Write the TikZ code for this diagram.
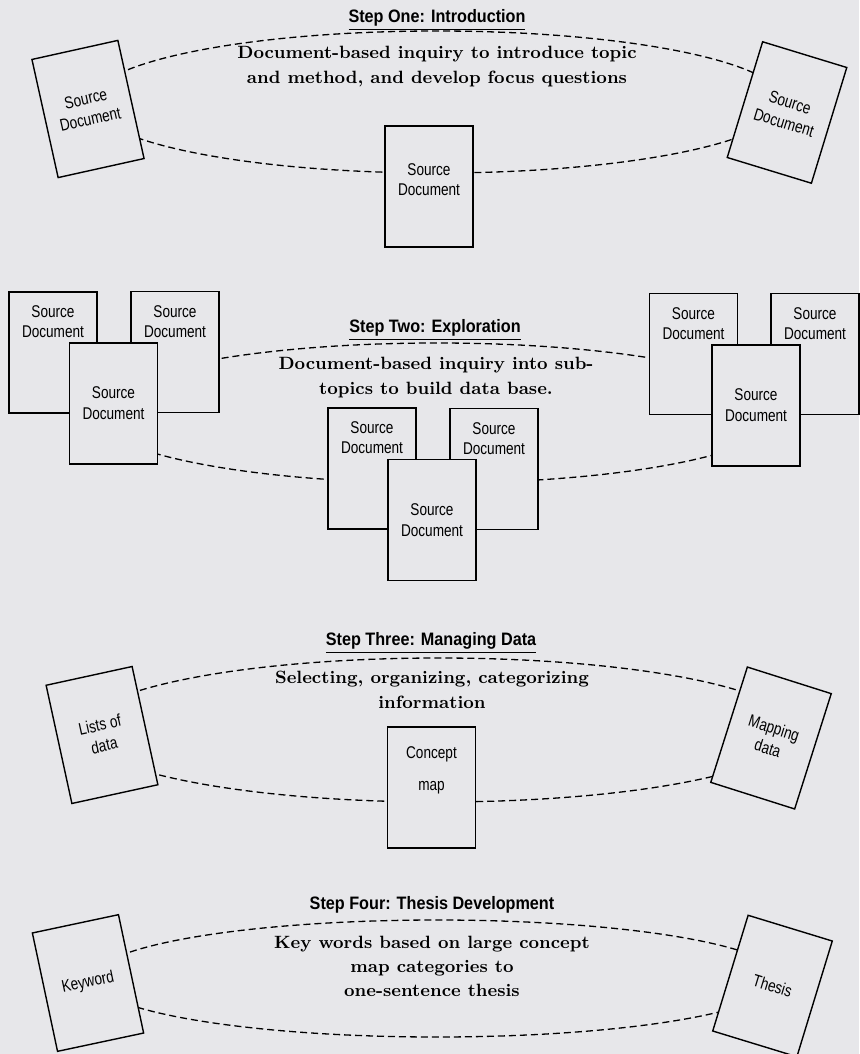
\documentclass[tikz,border=0pt]{standalone}
\usepackage{fontspec}
\usetikzlibrary{positioning}
\newfontfamily\docfont[FakeStretch=0.8]{Liberation Sans}
\newfontfamily\stepfont[FakeStretch=0.9]{Liberation Sans}
\definecolor{paper}{RGB}{231,231,234}
\tikzset{
  doc/.style={draw, fill=paper, line width=0.7pt, minimum width=44pt, minimum height=60.5pt,
    inner sep=0pt, align=center, font=\docfont\fontsize{8.5}{10.5}\selectfont},
  doctext/.style={inner sep=0pt, align=center, font=\docfont\fontsize{8.5}{10}\selectfont},
  steptitle/.style={inner sep=0pt, font=\stepfont\bfseries\fontsize{9}{11}\selectfont},
  stepbody/.style={inner sep=0pt, align=center, font=\bfseries\fontsize{8.9}{12.5}\selectfont},
  cycleline/.style={dash pattern=on 3.5pt off 2pt, line width=0.65pt}
}
\begin{document}
\begin{tikzpicture}[x=0.5pt, y=-0.5pt]
  \fill[paper] (0,0) rectangle (859,1054);
  \useasboundingbox (0,0) rectangle (859,1054);

  % step one
  \node[steptitle] (t1) at (437,20) {\underline{Step One: Introduction}};
  \node[stepbody] (b1) at (437,67) {Document-based inquiry to introduce topic\\and method, and develop focus questions};
  \draw[cycleline] (437,102) ellipse [x radius=173.5pt, y radius=35.5pt];
  \node[doc, rotate=12.5] (s1a) at (88,109) {Source\\Document};
  \node[doc] (s1b) at (429,186.5) {};
  \node[doctext, below=19pt of s1b.north] (s1bt) {Source\\Document};
  \node[doc, rotate=-17] (s1c) at (787,112.5) {Source\\Document};

  % step two
  \node[steptitle] (t2) at (435,330) {\underline{Step Two: Exploration}};
  \node[stepbody] (b2) at (436,378) {Document-based inquiry into sub-\\topics to build data base.};
  \draw[cycleline] (437,413) ellipse [x radius=172.5pt, y radius=35pt];
  \node[doc] (s2a) at (53,352.5) {};
  \node[doctext, below=7pt of s2a.north] (s2at) {Source\\Document};
  \node[doc] (s2b) at (175,352) {};
  \node[doctext, below=7pt of s2b.north] (s2bt) {Source\\Document};
  \node[doc] (s2c) at (113.5,403.5) {Source\\Document};
  \node[doc] (s2d) at (372,468.5) {};
  \node[doctext, below=7pt of s2d.north] (s2dt) {Source\\Document};
  \node[doc] (s2e) at (494,469) {};
  \node[doctext, below=7pt of s2e.north] (s2et) {Source\\Document};
  \node[doc] (s2f) at (432,520) {Source\\Document};
  \node[doc] (s2g) at (693.5,354) {};
  \node[doctext, below=7pt of s2g.north] (s2gt) {Source\\Document};
  \node[doc] (s2h) at (815,354) {};
  \node[doctext, below=7pt of s2h.north] (s2ht) {Source\\Document};
  \node[doc] (s2i) at (756,405.5) {Source\\Document};

  % step three
  \node[steptitle] (t3) at (431,643) {\underline{Step Three: Managing Data}};
  \node[stepbody] (b3) at (432,690) {Selecting, organizing, categorizing\\information};
  \draw[cycleline] (439,730) ellipse [x radius=179pt, y radius=36pt];
  \node[doc, rotate=12.3] (s3a) at (102,735) {Lists of\\data};
  \node[doc] (s3b) at (431.5,787.5) {};
  \node[doctext, below=10pt of s3b.north] (s3bt) {Concept\\[6pt]map};
  \node[doc, rotate=-17.6] (s3c) at (771,738) {Mapping\\data};

  % step four
  \node[steptitle] (t4) at (432,905) {Step Four: Thesis Development};
  \node[stepbody, font=\bfseries\fontsize{8.9}{12}\selectfont] (b4) at (432,966) {Key words based on large concept\\map categories to\\one-sentence thesis};
  \draw[cycleline] (437,978.5) ellipse [x radius=172pt, y radius=29.25pt];
  \node[doc, rotate=12] (s4a) at (88,983) {Keyword};
  \node[doc, rotate=-17] (s4b) at (772.5,986) {Thesis};
\end{tikzpicture}
\end{document}
